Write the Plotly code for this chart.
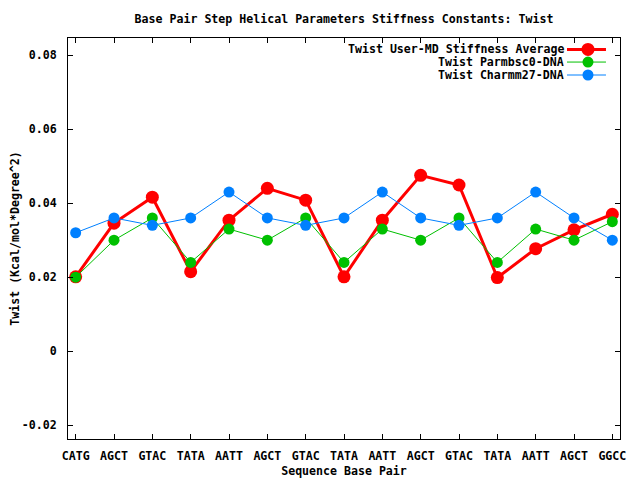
import plotly.graph_objects as go

categories = ["CATG", "AGCT", "GTAC", "TATA", "AATT", "AGCT", "GTAC", "TATA",
              "AATT", "AGCT", "GTAC", "TATA", "AATT", "AGCT", "GGCC"]
user_md = [0.0201, 0.0346, 0.0416, 0.0215, 0.0354, 0.0440, 0.0408, 0.0201,
           0.0354, 0.0475, 0.0449, 0.0199, 0.0277, 0.0328, 0.0370]
parmbsc0 = [0.020, 0.030, 0.036, 0.024, 0.033, 0.030, 0.036, 0.024,
            0.033, 0.030, 0.036, 0.024, 0.033, 0.030, 0.035]
charmm27 = [0.032, 0.036, 0.034, 0.036, 0.043, 0.036, 0.034, 0.036,
            0.043, 0.036, 0.034, 0.036, 0.043, 0.036, 0.030]
series_names = ["Twist User-MD Stiffness Average", "Twist Parmbsc0-DNA", "Twist Charmm27-DNA"]
y_ticks = [-0.02, 0, 0.02, 0.04, 0.06, 0.08]
y_tick_text = ["-0.02", "0", "0.02", "0.04", "0.06", "0.08"]

FONT = dict(family="DejaVu Sans Mono", size=11.6, color="black", weight="bold")
colors = ["#ff0000", "#00c000", "#0080ff"]
widths = [3, 1, 1]
msizes = [13, 11, 11]

# page has an 8px body margin; figure is sized so it ends at the window edge
W, H, OFF = 632, 472, 8

x = list(range(len(categories)))
fig = go.Figure()
for vals, name, c, w, ms in zip([user_md, parmbsc0, charmm27], series_names, colors, widths, msizes):
    fig.add_trace(go.Scatter(x=x, y=vals, mode="lines+markers", name=name,
                             line=dict(color=c, width=w),
                             marker=dict(color=c, size=ms, line=dict(width=0)),
                             showlegend=False))

# manual gnuplot-style legend (text right, sample on right)
rows_y = [0.9715, 0.940, 0.9077]
for name, c, w, ms, yy in zip(series_names, colors, widths, msizes, rows_y):
    fig.add_annotation(xref="paper", yref="paper", x=0.9004, y=yy, text=name,
                       showarrow=False, xanchor="right", yanchor="middle",
                       borderpad=0, font=FONT)
    fig.add_shape(type="line", xref="paper", yref="paper", x0=0.904, x1=0.9746,
                  y0=yy, y1=yy, line=dict(color=c, width=w))
    fig.add_shape(type="circle", xref="paper", yref="paper", xsizemode="pixel",
                  ysizemode="pixel", xanchor=0.942, yanchor=yy,
                  x0=-ms / 2, x1=ms / 2, y0=-ms / 2, y1=ms / 2,
                  fillcolor=c, line=dict(width=0))

fig.update_layout(
    width=W, height=H,
    margin=dict(l=68 - OFF, r=20, t=38 - OFF, b=41),
    paper_bgcolor="white", plot_bgcolor="white",
    font=FONT,
    title=dict(text="Base Pair Step Helical Parameters Stiffness Constants: Twist",
               x=0.5, xref="paper", y=1 - (19 - OFF) / H, yanchor="middle", xanchor="center",
               font=FONT),
    xaxis=dict(range=[-0.2, 14.2], tickvals=x, ticktext=categories,
               ticks="inside", ticklen=5, tickcolor="black", mirror="ticks",
               showline=True, linecolor="black", linewidth=1, showgrid=False,
               zeroline=False, ticklabelstandoff=6, tickfont=FONT, automargin=False,
               title=dict(text="Sequence Base Pair", font=FONT, standoff=4)),
    yaxis=dict(range=[-0.0237, 0.0846], tickvals=y_ticks, ticktext=y_tick_text,
               ticks="inside", ticklen=5, tickcolor="black", mirror="ticks",
               showline=True, linecolor="black", linewidth=1, showgrid=False,
               zeroline=False, ticklabelstandoff=8, tickfont=FONT, automargin=False,
               title=dict(text="Twist (Kcal/mol*Degree^2)", font=FONT, standoff=10)),
)
fig.write_html("out.html")
